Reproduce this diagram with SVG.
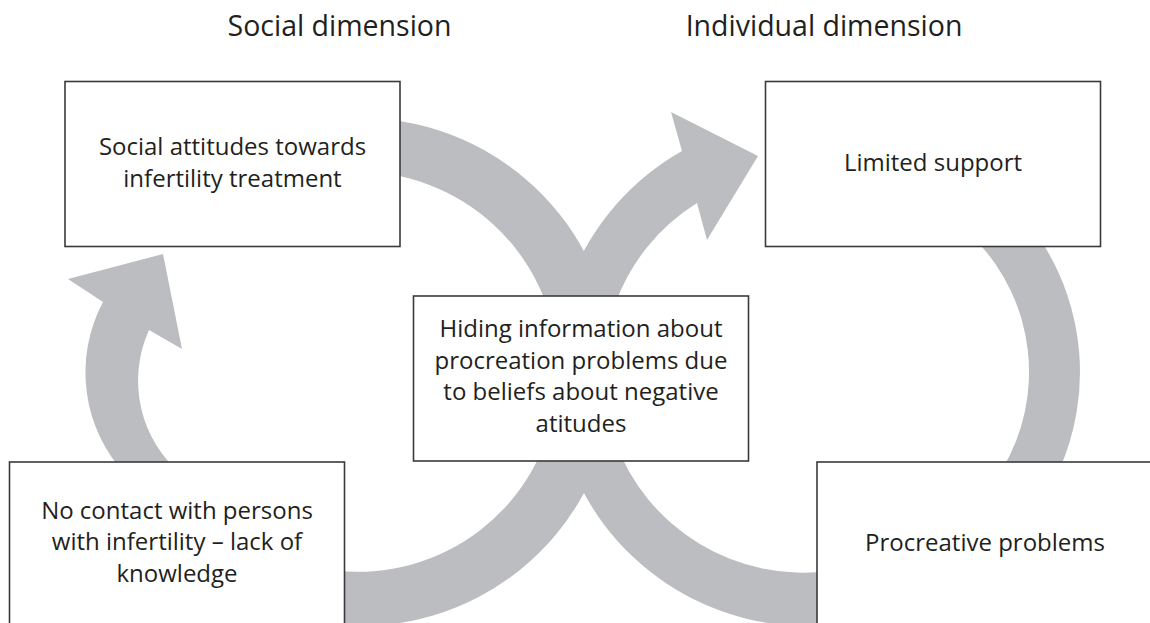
<svg xmlns="http://www.w3.org/2000/svg" width="1150" height="623" viewBox="0 0 1150 623">
  <style>
    .band { fill: #bcbdc0; stroke: none; }
    .box { fill: #ffffff; stroke: #3a3a3a; stroke-width: 1.6; }
    .t { font-family: "Open Sans", "Noto Sans", "DejaVu Sans", sans-serif; font-size: 24px; fill: #231f20; text-anchor: middle; }
    .title { font-family: "Open Sans", "Noto Sans", "DejaVu Sans", sans-serif; font-size: 28.5px; fill: #231f20; text-anchor: middle; }
  </style>
  <rect width="1150" height="623" fill="#ffffff"/>

  <text class="title" x="339.5" y="36">Social dimension</text>
  <text class="title" x="824" y="36">Individual dimension</text>

  <g id="connectors">
    <!-- C -> A (left small loop with arrowhead) -->
    <path class="band" d="M 126,475 A 150 150 0 0 1 103,302 L 68,279 L 163,254 L 182,349 L 149,330 A 123 123 0 0 0 182,475 Z"/>
    <!-- Left big circle: A -> E -> C -->
    <path class="band" d="M 390,119.8 A 254 254 0 0 1 335,624.8 L 335,570.4 A 200 200 0 0 0 390,174.3 Z"/>
    <!-- Right big circle: D -> E -> B with arrowhead -->
    <path class="band" d="M 682,151 A 254 254 0 0 0 830,625 L 830,570.8 A 200 200 0 0 1 697,203 L 707,240 L 758,156 L 671,112 Z"/>
    <!-- B -> D (right loop) -->
    <path class="band" d="M 1040.6,240 A 241 241 0 0 1 1059.2,470 L 1001.8,470 A 190 190 0 0 0 975.7,240 Z"/>
  </g>

  <g id="node-social-attitudes">
    <rect class="box" x="65" y="81.5" width="335" height="165"/>
    <text class="t" x="232.5" y="155">Social attitudes towards</text>
    <text class="t" x="232.5" y="187">infertility treatment</text>
  </g>

  <g id="node-limited-support">
    <rect class="box" x="765.5" y="81.5" width="335" height="165"/>
    <text class="t" x="933" y="171">Limited support</text>
  </g>

  <g id="node-hiding">
    <rect class="box" x="413.5" y="296" width="335" height="165"/>
    <text class="t" x="581" y="337">Hiding information about</text>
    <text class="t" x="581" y="368.5">procreation problems due</text>
    <text class="t" x="581" y="400">to beliefs about negative</text>
    <text class="t" x="581" y="431.5">atitudes</text>
  </g>

  <g id="node-no-contact">
    <rect class="box" x="9.5" y="462" width="335" height="175"/>
    <text class="t" x="177" y="518.5">No contact with persons</text>
    <text class="t" x="177" y="550">with infertility – lack of</text>
    <text class="t" x="177" y="581.5">knowledge</text>
  </g>

  <g id="node-procreative">
    <rect class="box" x="817" y="462" width="340" height="175"/>
    <text class="t" x="985" y="551">Procreative problems</text>
  </g>
</svg>
